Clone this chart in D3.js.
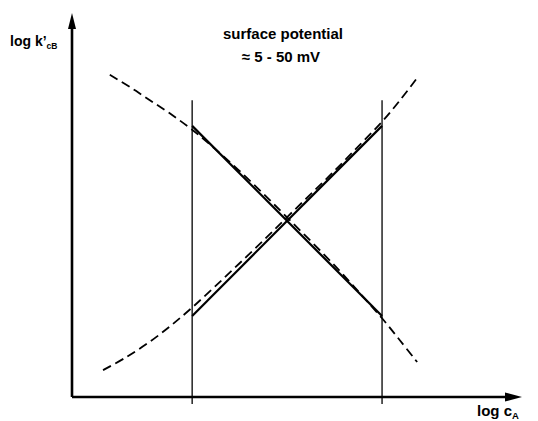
<!DOCTYPE html>
<html>
<head>
<meta charset="utf-8">
<script src="https://cdn.jsdelivr.net/npm/d3@7"></script>
<style>
  html, body { margin: 0; padding: 0; background: #fff; }
  svg { display: block; }
  text { font-family: "Liberation Sans", Arial, Helvetica, sans-serif; font-weight: bold; fill: #000; }
</style>
</head>
<body>
<svg id="chart" width="538" height="421"></svg>
<script>
// Schematic: log k'cB versus log cA (arbitrary units 0–100 on both axes)
const limits = [26.7, 68.9];                 // log cA range bounded by the vertical lines
const limitTop = 77.3;
const limitBottom = -1.8;

// Dashed curves (full theoretical dependence)
const fallingX = [8.4, 12.9, 17.3, 21.8, 26.7, 31.8, 37.3, 42.9, 48.2, 54.0, 59.6, 64.4, 68.9, 72.9, 76.7];
const fallingY = [83.9, 80.7, 77.3, 73.8, 69.6, 64.6, 58.8, 52.5, 46.3, 39.5, 32.7, 26.5, 20.5, 14.7, 9.1];
const risingX  = [6.9, 11.8, 17.3, 22.2, 26.7, 31.8, 37.3, 42.9, 48.2, 54.0, 59.6, 64.4, 68.9, 72.9, 76.9];
const risingY  = [7.0, 10.2, 14.4, 18.8, 23.3, 28.8, 34.9, 41.2, 47.3, 53.9, 60.4, 66.2, 71.7, 77.3, 83.4];

// Solid straight-line approximations inside the bounded range
const fallingLineY = [70.6, 21.1];
const risingLineY  = [21.1, 70.6];

const titleLines = ["surface potential", "\u2248 5 - 50 mV"];
const xLabel = ["log c", "A"];
const yLabel = ["log k\u2019", "cB"];

const svg = d3.select("#chart");
const x = d3.scaleLinear().domain([0, 100]).range([72, 522]);
const y = d3.scaleLinear().domain([0, 100]).range([397, 13]);

const line = d3.line().x(d => x(d[0])).y(d => y(d[1]));
const curve = d3.line().x(d => x(d[0])).y(d => y(d[1])).curve(d3.curveCatmullRom.alpha(0.5));

// Axes with arrowheads
svg.append("path")
  .attr("d", line([[0, 0], [0, 96]]))
  .attr("stroke", "#000").attr("stroke-width", 2.6).attr("fill", "none");
svg.append("path")
  .attr("d", line([[0, 0], [96.5, 0]]))
  .attr("stroke", "#000").attr("stroke-width", 2.6).attr("fill", "none");
svg.append("path")
  .attr("d", `M${x(0)},${y(100)} L${x(0) - 4},${y(100) + 16} L${x(0) + 4},${y(100) + 16} Z`)
  .attr("fill", "#000");
svg.append("path")
  .attr("d", `M${x(100)},${y(0)} L${x(100) - 17},${y(0) - 4.5} L${x(100) - 17},${y(0) + 4.5} Z`)
  .attr("fill", "#000");

// Vertical bounding lines
svg.selectAll("line.limit").data(limits).enter().append("line")
  .attr("class", "limit")
  .attr("x1", d => x(d)).attr("x2", d => x(d))
  .attr("y1", y(limitTop)).attr("y2", y(limitBottom))
  .attr("stroke", "#000").attr("stroke-width", 1.3);

// Dashed curves
[[fallingX, fallingY], [risingX, risingY]].forEach(([xs, ys]) => {
  svg.append("path")
    .attr("d", curve(xs.map((v, i) => [v, ys[i]])))
    .attr("fill", "none").attr("stroke", "#000")
    .attr("stroke-width", 1.8).attr("stroke-dasharray", "9,5");
});

// Solid straight lines
[fallingLineY, risingLineY].forEach(ys => {
  svg.append("path")
    .attr("d", line([[limits[0], ys[0]], [limits[1], ys[1]]]))
    .attr("fill", "none").attr("stroke", "#000").attr("stroke-width", 2.2);
});

// Title
svg.append("text").attr("x", 283).attr("y", 39).attr("text-anchor", "middle")
  .style("font-size", "15px").text(titleLines[0]);
svg.append("text").attr("x", 281).attr("y", 62).attr("text-anchor", "middle")
  .style("font-size", "15px").text(titleLines[1]);

// Axis labels
const yl = svg.append("text").attr("x", 10).attr("y", 46).style("font-size", "14px");
yl.append("tspan").text(yLabel[0]);
yl.append("tspan").attr("dy", 3).style("font-size", "8.5px").text(yLabel[1]);

const xl = svg.append("text").attr("x", 477).attr("y", 416).style("font-size", "15px");
xl.append("tspan").text(xLabel[0]);
xl.append("tspan").attr("dy", 3).style("font-size", "9.5px").text(xLabel[1]);
</script>
</body>
</html>
